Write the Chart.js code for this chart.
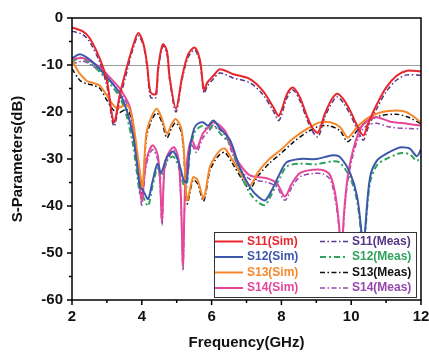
<!DOCTYPE html>
<html>
<head>
<meta charset="utf-8">
<script src="https://cdn.jsdelivr.net/npm/chart.js@4"></script>
<style>
    html, body { margin: 0; padding: 0; background: #fff; }
    #wrap { width: 429px; height: 354px; }
</style>
</head>
<body>
<div id="wrap"><canvas id="sparamChart" width="429" height="354"></canvas></div>
<script>
// frequency points (GHz), one list per parameter, shared by Sim and Meas
const s11Freq = [2.0, 2.3, 2.5, 2.8, 3.0, 3.2, 3.38, 3.57, 3.75, 3.9, 4.05, 4.15, 4.25, 4.4, 4.47, 4.6, 4.72, 4.8, 4.98, 5.15, 5.33, 5.52, 5.67, 5.78, 5.88, 6.05, 6.24, 6.6, 7.1, 7.47, 7.77, 7.93, 8.16, 8.33, 8.53, 8.73, 8.9, 9.05, 9.25, 9.45, 9.6, 9.77, 9.97, 10.17, 10.35, 10.48, 10.74, 11.0, 11.3, 11.6, 12.0];
const s11Sim = [-2.0, -2.8, -4.2, -8.7, -13.3, -22.2, -16, -10.5, -5.9, -3.2, -5.6, -9.8, -15.8, -16.2, -10.5, -5.6, -7, -12.7, -19.3, -12.7, -7.7, -6.3, -9.1, -15.3, -13.7, -12.3, -10.9, -11.9, -13, -15.5, -19, -20.8, -16.2, -14.8, -16.9, -20.8, -23.5, -24.4, -20.3, -17.2, -16.1, -17.2, -19.7, -22.9, -25, -22.5, -18.3, -14.8, -12.3, -11.2, -11.4];
const s11Meas = [-2.8, -3.5, -5, -9.5, -14.5, -23, -17, -11.5, -6.5, -3.8, -6, -10.5, -16.8, -17, -11.2, -6, -7.6, -13.3, -20, -13.3, -8.3, -6.8, -9.7, -16, -14.5, -13, -11.7, -12.7, -13.8, -16.3, -19.8, -21.8, -17, -15.3, -17.6, -21.5, -24.2, -25.3, -21, -18, -16.8, -18, -20.5, -23.6, -26, -23.4, -19.2, -15.7, -13.2, -12.1, -12.2];

const s12Freq = [2.0, 2.23, 2.5, 2.8, 3.09, 3.38, 3.57, 3.75, 3.86, 3.95, 4.03, 4.18, 4.3, 4.45, 4.55, 4.72, 4.9, 5.05, 5.2, 5.28, 5.38, 5.5, 5.6, 5.75, 5.9, 6.05, 6.24, 6.53, 6.8, 7.1, 7.33, 7.53, 7.72, 7.96, 8.15, 8.53, 9.0, 9.48, 9.68, 9.97, 10.17, 10.3, 10.35, 10.4, 10.54, 10.74, 11.0, 11.3, 11.45, 11.68, 11.88, 12.0];
const s12Sim = [-8.6, -7.7, -8.8, -10.9, -13.3, -16.2, -19.7, -25, -31, -36, -36.6, -38.5, -35, -31, -33, -29.6, -28.4, -30.5, -34.5, -35, -27.5, -23.5, -22.5, -22.2, -22.9, -21.8, -23.5, -26, -31.7, -36, -38, -38.8, -36.7, -33, -30.7, -30, -30, -29.2, -29.6, -33, -38, -46, -50, -45, -33.9, -30.3, -28.9, -27.8, -27.5, -27.8, -29.4, -28];
const s12Meas = [-9.4, -8.4, -9.5, -11.5, -14, -17, -21, -27, -33, -37.5, -38, -40, -36, -32, -34, -30.5, -29.5, -31.5, -35.5, -36, -28.5, -24.5, -23.5, -23, -23.8, -22.8, -24.5, -27, -32.7, -37.3, -39.2, -39.8, -37.5, -34, -31.6, -31, -31.1, -30.5, -30.8, -34, -39, -47, -51, -46, -35, -31.3, -30, -29, -28.7, -29, -30.4, -29.5];

const s13Freq = [2.0, 2.23, 2.43, 2.6, 2.8, 3.0, 3.18, 3.3, 3.57, 3.72, 3.86, 3.95, 4.02, 4.13, 4.28, 4.43, 4.58, 4.72, 4.86, 4.97, 5.12, 5.2, 5.3, 5.47, 5.6, 5.77, 5.95, 6.1, 6.24, 6.38, 6.6, 6.9, 7.1, 7.33, 7.67, 7.96, 8.33, 8.73, 9.1, 9.4, 9.68, 9.9, 10.17, 10.45, 10.83, 11.3, 11.6, 12.0];
const s13Sim = [-9.1, -11.9, -13.4, -13.8, -14.4, -16.5, -18.5, -19.2, -18.5, -21, -28, -33, -36, -24.6, -21, -19.3, -21.5, -24.6, -22.5, -21.5, -23.2, -27.5, -38.8, -33.9, -34.5, -38.3, -31.7, -29.5, -28.2, -27.8, -30.3, -33.8, -35.6, -32.8, -29.9, -28.2, -25.7, -23.6, -22.2, -22.2, -23.2, -25.4, -23.2, -21.4, -20.1, -19.7, -20.1, -22.2];
const s13Meas = [-10.8, -13.3, -14, -14.3, -15, -17.5, -19.5, -20.3, -19.5, -22, -29, -34, -37.5, -25.5, -21.8, -20.2, -22.3, -25.5, -23.3, -22.3, -24, -28.5, -39.5, -34.5, -35.3, -39, -32.5, -30.3, -29, -28.6, -31, -34.6, -36.3, -33.6, -30.8, -29, -26.5, -24.3, -23, -23, -24, -26.3, -24, -22, -20.8, -20.5, -21, -22.5];

const s14Freq = [2.0, 2.3, 2.5, 2.8, 3.09, 3.38, 3.66, 3.8, 3.92, 4.0, 4.1, 4.2, 4.32, 4.45, 4.52, 4.58, 4.65, 4.75, 4.92, 5.05, 5.12, 5.18, 5.24, 5.32, 5.43, 5.57, 5.75, 5.95, 6.05, 6.24, 6.43, 6.6, 6.8, 7.1, 7.58, 7.87, 8.1, 8.3, 8.53, 8.9, 9.2, 9.4, 9.54, 9.64, 9.72, 9.8, 9.9, 10.05, 10.2, 10.35, 10.54, 10.74, 11.1, 11.6, 12.0];
const s14Sim = [-8.7, -8.5, -9.1, -10.5, -12.7, -15.1, -19, -26, -34, -38.8, -31.7, -28.5, -27.1, -29, -34, -43, -31.5, -29, -27.5, -30, -38, -52.5, -36, -29, -26, -27.8, -24.6, -22.9, -22.2, -22.9, -24.6, -28.2, -31, -33.5, -34.1, -35.2, -38, -35.2, -33, -32.3, -32.4, -33.5, -37.3, -43, -50, -41, -33.8, -28.2, -24.6, -22.5, -21.5, -21.1, -22, -22.5, -22.9];
const s14Meas = [-9.8, -9.2, -9.8, -11.2, -13.4, -15.8, -19.8, -27, -35, -39.8, -32.5, -29.3, -28, -30, -35, -44, -32.5, -30, -28.3, -31, -39, -53.5, -37, -30, -27, -28.6, -25.5, -23.8, -23, -23.8, -25.5, -29, -32, -34.3, -34.9, -36, -38.8, -36, -33.8, -33.1, -33.2, -34.4, -38.5, -44, -51, -42, -34.8, -29.2, -25.6, -23.5, -22.6, -22.4, -23.2, -23.5, -23.6];

const xTicks = [2, 4, 6, 8, 10, 12];
const yTicks = [0, -10, -20, -30, -40, -50, -60];

const FONT = "'Liberation Sans', Arial, sans-serif";

function points(freq, vals) {
    return freq.map((f, i) => ({ x: f, y: vals[i] }));
}

function simSet(label, freq, vals, color) {
    return {
        label: label,
        data: points(freq, vals),
        borderColor: color,
        borderWidth: 2,
        pointRadius: 0,
        tension: 0.3,
        fill: false,
    };
}

function measSet(label, freq, vals, color, dash, width) {
    return {
        label: label,
        data: points(freq, vals),
        borderColor: color,
        borderWidth: width || 1.5,
        borderDash: dash || [5, 2.5, 1.5, 2.5],
        pointRadius: 0,
        tension: 0.3,
        fill: false,
    };
}

const datasets = [
    simSet("S11(Sim)", s11Freq, s11Sim, "#e8262e"),
    simSet("S12(Sim)", s12Freq, s12Sim, "#3c58aa"),
    simSet("S13(Sim)", s13Freq, s13Sim, "#f7882a"),
    simSet("S14(Sim)", s14Freq, s14Sim, "#e6479b"),
    measSet("S11(Meas)", s11Freq, s11Meas, "#553585"),
    measSet("S12(Meas)", s12Freq, s12Meas, "#2ea35c", [6, 3, 2, 3], 2),
    measSet("S13(Meas)", s13Freq, s13Meas, "#111111"),
    measSet("S14(Meas)", s14Freq, s14Meas, "#9648ad"),
];

// frame, outward major/minor ticks and the two-column legend
const framePlugin = {
    id: "frame",
    afterDatasetsDraw(chart) {
        const { ctx, chartArea: a } = chart;
        const sets = chart.data.datasets;
        const bx = a.right - 207;
        const by = a.bottom - 68;

        ctx.save();
        ctx.fillStyle = "#fff";
        ctx.fillRect(bx, by, 202, 65);
        ctx.strokeStyle = "#333";
        ctx.lineWidth = 1;
        ctx.strokeRect(bx + 0.5, by + 0.5, 202, 65);

        ctx.font = "bold 12px " + FONT;
        ctx.textBaseline = "middle";
        for (let i = 0; i < 4; i++) {
            const ry = by + 9.5 + i * 15.5;
            [sets[i], sets[i + 4]].forEach((ds, col) => {
                const lx = bx + (col === 0 ? 1 : 106);
                ctx.strokeStyle = ds.borderColor;
                ctx.lineWidth = ds.borderWidth;
                ctx.setLineDash(ds.borderDash || []);
                ctx.beginPath();
                ctx.moveTo(lx, ry);
                ctx.lineTo(lx + 28, ry);
                ctx.stroke();
                ctx.setLineDash([]);
                ctx.fillStyle = ds.borderColor;
                ctx.fillText(ds.label, lx + 32, ry);
            });
        }
        ctx.restore();
    },
    afterDraw(chart) {
        const { ctx, chartArea: a, scales } = chart;
        ctx.save();
        ctx.strokeStyle = "#000";
        ctx.lineWidth = 1.5;
        ctx.strokeRect(a.left, a.top, a.right - a.left, a.bottom - a.top);

        ctx.beginPath();
        for (let v = 2; v <= 12; v += 1) {
            const px = scales.x.getPixelForValue(v);
            const len = v % 2 === 0 ? 5 : 3;
            ctx.moveTo(px, a.bottom);
            ctx.lineTo(px, a.bottom + len);
        }
        for (let v = 0; v >= -60; v -= 5) {
            const py = scales.y.getPixelForValue(v);
            const len = v % 10 === 0 ? 5 : 3;
            ctx.moveTo(a.left, py);
            ctx.lineTo(a.left - len, py);
        }
        ctx.stroke();
        ctx.restore();
    },
};

const tickFont = { family: FONT, size: 15, weight: "bold" };

new Chart(document.getElementById("sparamChart"), {
    type: "line",
    data: { datasets: datasets },
    options: {
        responsive: false,
        animation: false,
        devicePixelRatio: 1,
        layout: { padding: { top: 17, right: 8, left: 0, bottom: 0 } },
        plugins: {
            legend: { display: false },
            tooltip: { enabled: false },
        },
        scales: {
            x: {
                type: "linear",
                min: 2,
                max: 12,
                afterBuildTicks: (scale) => {
                    scale.ticks = xTicks.map((v) => ({ value: v }));
                },
                afterFit: (scale) => {
                    scale.height = 54;
                    scale.paddingLeft = 0;
                    scale.paddingRight = 0;
                },
                grid: { display: false, drawTicks: false },
                border: { display: false },
                ticks: { font: tickFont, color: "#111", padding: 8, maxRotation: 0 },
                title: {
                    display: true,
                    text: "Frequency(GHz)",
                    font: tickFont,
                    color: "#111",
                    padding: { top: 0, bottom: 2 },
                },
            },
            y: {
                min: -60,
                max: 0,
                afterBuildTicks: (scale) => {
                    scale.ticks = yTicks.map((v) => ({ value: v }));
                },
                afterFit: (scale) => {
                    scale.width = 72;
                },
                grid: {
                    drawTicks: false,
                    color: (c) => (c.tick && c.tick.value === -10 ? "#9c9c9c" : "rgba(0,0,0,0)"),
                    lineWidth: 1,
                },
                border: { display: false },
                ticks: { font: tickFont, color: "#111", padding: 9 },
                title: {
                    display: true,
                    text: "S-Parameters(dB)",
                    font: tickFont,
                    color: "#111",
                    padding: { top: 9, bottom: 0 },
                },
            },
        },
    },
    plugins: [framePlugin],
});
</script>
</body>
</html>
